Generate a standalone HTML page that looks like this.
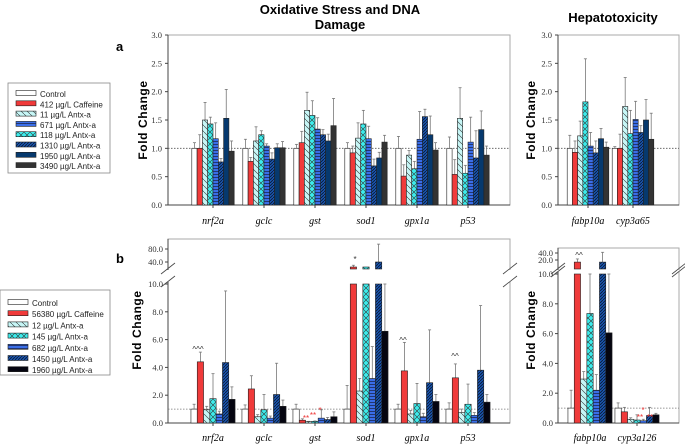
<!DOCTYPE html>
<html><head><meta charset="utf-8"><style>
html,body{margin:0;padding:0;background:#fff;}
svg{display:block;}
</style></head><body>
<svg id="chart" width="685" height="446" viewBox="0 0 685 446" xmlns="http://www.w3.org/2000/svg">
<defs>
<pattern id="pLight" patternUnits="userSpaceOnUse" width="6" height="6"><rect width="6" height="6" fill="#c6f6f6"/><path d="M0,0 L6,6" stroke="#333" stroke-width="0.6"/></pattern>
<pattern id="pCross" patternUnits="userSpaceOnUse" width="6" height="6"><rect width="6" height="6" fill="#3cecec"/><path d="M0,0 L6,6 M6,0 L0,6" stroke="#333" stroke-width="0.6"/></pattern>
<pattern id="pHoriz" patternUnits="userSpaceOnUse" width="4" height="3"><rect width="4" height="3" fill="#3a6ee8"/><path d="M0,0.5 L4,0.5" stroke="#112" stroke-width="0.6"/></pattern>
<pattern id="pNavyH" patternUnits="userSpaceOnUse" width="3" height="3"><rect width="3" height="3" fill="#1a55b0"/><path d="M0,3 L3,0" stroke="#081830" stroke-width="0.8"/></pattern>
</defs>
<text x="340" y="14" text-anchor="middle" font-family="Liberation Sans, sans-serif" font-weight="bold" font-size="13">Oxidative Stress and DNA</text>
<text x="340" y="29" text-anchor="middle" font-family="Liberation Sans, sans-serif" font-weight="bold" font-size="13">Damage</text>
<text x="613" y="22" text-anchor="middle" font-family="Liberation Sans, sans-serif" font-weight="bold" font-size="13">Hepatotoxicity</text>
<text x="116" y="51" font-family="Liberation Sans, sans-serif" font-weight="bold" font-size="13">a</text>
<text x="116" y="263" font-family="Liberation Sans, sans-serif" font-weight="bold" font-size="13">b</text>
<g id="layer"></g>
</svg>
<script>
const NS="http://www.w3.org/2000/svg";
const layer=document.getElementById('layer');
function el(tag,attrs,parent){const e=document.createElementNS(NS,tag);for(const k in attrs)e.setAttribute(k,attrs[k]);(parent||layer).appendChild(e);return e;}

// ---- data ----
const catsA=["nrf2a","gclc","gst","sod1","gpx1a","p53"];
const catsA2=["fabp10a","cyp3a65"];
const seriesA=["Control","412 µg/L Caffeine","11 µg/L Antx-a","118 µg/L Antx-a","671 µg/L Antx-a","1310 µg/L Antx-a","1950 µg/L Antx-a","3490 µg/L Antx-a"];
const valsA=[[1.0,1.0,1.5,1.43,1.17,0.76,1.53,0.95],[1.0,0.77,1.13,1.24,1.04,0.81,1.01,1.01],[1.0,1.1,1.67,1.58,1.34,1.24,1.13,1.4],[1.0,0.92,1.18,1.43,1.17,0.69,0.83,1.11],[1.0,0.51,0.88,0.64,1.16,1.56,1.24,0.97],[1.0,0.54,1.53,0.56,1.11,0.83,1.33,0.88]];
const errA=[[1.1,1.24,1.81,1.55,1.45,0.82,2.04,1.13],[1.16,0.84,1.38,1.31,1.08,0.92,1.08,1.12],[1.07,1.3,1.99,1.84,1.54,1.33,1.25,1.88],[1.1,1.04,1.45,1.67,1.39,0.81,0.93,1.23],[1.21,0.71,0.96,0.77,1.65,1.69,1.57,1.1],[1.2,0.8,2.07,0.7,1.55,1.31,1.66,1.04]];
const valsA2=[[1.0,0.93,1.22,1.82,1.04,0.92,1.17,1.02],[1.0,1.0,1.74,1.26,1.51,1.28,1.5,1.16]];
const errA2=[[1.23,1.13,1.48,2.58,1.28,1.13,1.35,1.11],[1.03,1.25,2.25,1.67,1.83,1.4,1.86,1.62]];
const ticksA=[0,0.5,1.0,1.5,2.0,2.5,3.0];

const catsB2=["fabp10a","cyp3a126"];
const seriesB=["Control","56380 µg/L Caffeine","12 µg/L Antx-a","145 µg/L Antx-a","682 µg/L Antx-a","1450 µg/L Antx-a","1960 µg/L Antx-a"];
const valsB=[[1.0,4.4,0.95,1.75,0.65,4.35,1.7],[1.0,2.45,0.45,0.95,0.35,2.05,1.2],[1.0,0.2,0.1,0.12,0.35,0.25,0.45],[1.0,24,2.3,22,3.2,40,6.6],[1.0,3.75,0.65,1.4,0.45,2.9,1.55],[1.0,3.25,0.75,1.35,0.55,3.8,1.5]];
const errB=[[1.35,5.1,1.2,3.55,0.85,9.5,2.6],[1.3,3.4,0.6,2.05,0.5,4.3,1.65],[1.35,0.3,0.12,0.15,0.95,0.4,0.8],[2.7,30,3.2,22,5.5,95,10.5],[1.35,5.8,0.9,2.85,0.7,6.7,2.05],[1.45,4.25,1.0,2.8,0.75,8.45,2.05]];
const valsB2=[[1.0,14,2.95,7.35,2.2,14,6.05],[1.0,0.75,0.25,0.2,0.15,0.5,0.55]];
const errB2=[[2.2,23,3.45,10.5,3.25,42,10.5],[1.35,1.05,0.35,0.55,0.25,1.05,0.65]];
const ticksBLow=[0,2,4,6,8,10];
const ticksBUp=[40,80];
const ticksB2Up=[20,40];

const fillsA=["#fff","#f03a3a","url(#pLight)","url(#pCross)","url(#pHoriz)","url(#pNavyH)","#06396e","#333"];
const fillsB=["#fff","#f03a3a","url(#pLight)","url(#pCross)","url(#pHoriz)","url(#pNavyH)","#050510"];
const legFillsA=["#fff","#f03a3a","url(#pLight)","url(#pHoriz)","url(#pCross)","url(#pNavyH)","#06396e","#333"];
const legA=["Control","412 µg/L Caffeine","11 µg/L Antx-a","671 µg/L Antx-a","118 µg/L Antx-a","1310 µg/L Antx-a","1950 µg/L Antx-a","3490 µg/L Antx-a"];

function fmt(v,d){return v.toFixed(d);}
function axisText(x,y,t,name){const e=el('text',{x:x,y:y,'text-anchor':'end','font-family':'Liberation Serif, serif','font-size':'8.5',fill:'#333'});e.textContent=t;}
function ylabel(x,y){const e=el('text',{x:0,y:0,transform:`translate(${x},${y}) rotate(-90)`,'text-anchor':'middle','font-family':'Liberation Sans, sans-serif','font-weight':'bold','font-size':'12',fill:'#000','letter-spacing':'0.6'});e.textContent='Fold Change';}
function catLabel(x,y,t){const e=el('text',{x:x,y:y,'text-anchor':'middle','font-family':'Liberation Serif, serif','font-style':'italic','font-size':'10',fill:'#000'});e.textContent=t;}

function drawBar(x,w,yTop,yBase,fill,errY,name){
  if(errY!==null){const l=el('line',{x1:x+w/2,x2:x+w/2,y1:errY,y2:yTop,stroke:'#777','stroke-width':'0.8'});
  const c=el('line',{x1:x+w/2-1.5,x2:x+w/2+1.5,y1:errY,y2:errY,stroke:'#777','stroke-width':'0.8'});}
  const r=el('rect',{x:x,y:yTop,width:w,height:Math.max(0,yBase-yTop),fill:fill,stroke:'#222','stroke-width':'0.6'});
  
}

function panelA(cfg,cats,vals,errs){
  const {x0,x1,yT,yB,max,c0,dc,bw}=cfg;
  const ys=v=>yB-(v/max)*(yB-yT);
  const f=el('rect',{x:x0,y:yT,width:x1-x0,height:yB-yT,fill:'none',stroke:'#aaa','stroke-width':'1'});
  const ax=el('line',{x1:x0,x2:x0,y1:yT,y2:yB,stroke:'#444','stroke-width':'1'});
  const bx=el('line',{x1:x0,x2:x1,y1:yB,y2:yB,stroke:'#444','stroke-width':'1'});
  ticksA.forEach(t=>{const tk=el('line',{x1:x0-3,x2:x0,y1:ys(t),y2:ys(t),stroke:'#444'});axisText(x0-6,ys(t)+3,fmt(t,1),'y-tick-label');});
  const ref=el('line',{x1:x0,x2:x1,y1:ys(1),y2:ys(1),stroke:'#555','stroke-dasharray':'1.5,1.5','stroke-width':'0.8'});
  cats.forEach((c,i)=>{const cx=c0+dc*i;const n=vals[i].length;const sx=cx-n*bw/2;
    vals[i].forEach((v,j)=>{drawBar(sx+j*bw,bw,ys(v),yB,fillsA[j],ys(errs[i][j]),'bar-'+c+'-'+j);});
    const tk=el('line',{x1:cx,x2:cx,y1:yB,y2:yB+3,stroke:'#444'});
    catLabel(cx,yB+19,c);});
}
panelA({x0:168,x1:510,yT:35,yB:205,max:3,c0:213,dc:51,bw:5.3},catsA,valsA,errA);
panelA({x0:558,x1:679,yT:35,yB:205,max:3,c0:588,dc:45,bw:5.2},catsA2,valsA2,errA2);
ylabel(147,120);ylabel(535,120);

function panelB(cfg,cats,vals,errs,upTicks){
  const {x0,x1,yT,yB,y10,c0,dc,bw,uA,uAy,uB,uBy,uBase}=cfg;
  const yl=v=>yB-(v/10)*(yB-y10);
  const uk=(uBy-uAy)/(uB-uA);
  const yu=v=>Math.min(uBase,uAy+(v-uA)*uk);
  const f=el('rect',{x:x0,y:yT,width:x1-x0,height:yB-yT,fill:'none',stroke:'#aaa','stroke-width':'1'});
  const ax=el('line',{x1:x0,x2:x0,y1:yT,y2:yB,stroke:'#444','stroke-width':'1'});
  const bx=el('line',{x1:x0,x2:x1,y1:yB,y2:yB,stroke:'#444','stroke-width':'1'});
  ticksBLow.forEach(t=>{const tk=el('line',{x1:x0-3,x2:x0,y1:yl(t),y2:yl(t),stroke:'#444'});axisText(x0-5,yl(t)+3,fmt(t,1),'y-tick-label');});
  upTicks.forEach(t=>{const y=uAy+(t-uA)*uk;const tk=el('line',{x1:x0-3,x2:x0,y1:y,y2:y,stroke:'#444'});axisText(x0-5,y+3,fmt(t,1),'y-tick-label-upper');});
  const ref=el('line',{x1:x0,x2:x1,y1:yl(1),y2:yl(1),stroke:'#777','stroke-dasharray':'1.5,1.5','stroke-width':'0.8'});
  cats.forEach((c,i)=>{const cx=c0+dc*i;const n=vals[i].length;const sx=cx-n*bw/2;
    vals[i].forEach((v,j)=>{const x=sx+j*bw;const e=errs[i][j];
      if(v>10){drawBar(x,bw,yl(10),yB,fillsB[j],null,'bar-'+c+'-'+j);
        const top=Math.min(yu(v),uBase-2);drawBar(x,bw,top,uBase,fillsB[j],e>v?Math.max(yT,yu(e)):null,'bar-upper-'+c+'-'+j);}
      else{drawBar(x,bw,yl(v),yB,fillsB[j],Math.max(yl(10),yl(e)),'bar-'+c+'-'+j);}
    });
    const tk=el('line',{x1:cx,x2:cx,y1:yB,y2:yB+3,stroke:'#444'});
    catLabel(cx,yB+18,c);});
  [x0,x1].forEach(bxp=>{const g=el('rect',{x:bxp-2,y:uBase+1,width:4,height:y10-uBase-3,fill:'#fff'});
    [uBase-1,y10-3].forEach(yy=>{const m=el('line',{x1:bxp-7,y1:yy+6,x2:bxp+7,y2:yy-5,stroke:'#444','stroke-width':'0.8'});});});
}
panelB({x0:168,x1:510,yT:239,yB:423,y10:284,c0:213,dc:51,bw:6.3,uA:40,uAy:262,uB:80,uBy:249,uBase:269},catsA,valsB,errB,ticksBUp);
panelB({x0:558,x1:679,yT:248,yB:423,y10:274,c0:590,dc:47,bw:6.3,uA:20,uAy:260,uB:40,uBy:253,uBase:269},catsB2,valsB2,errB2,ticksB2Up);
ylabel(141,330);ylabel(535,330);

function ann(x,y,t,col,name){const e=el('text',{x:x,y:y,'text-anchor':'middle','font-family':'Liberation Sans, sans-serif','font-size':'8',fill:col});e.textContent=t;}
ann(198,352,'^^^','#333','annotation-nrf2a');ann(403,343,'^^','#333','annotation-gpx1a');ann(455,359,'^^','#333','annotation-p53');
ann(355,262,'*','#333','annotation-sod1');ann(579,258,'^^','#333','annotation-fabp10a');
ann(306,421,'**','#e33','annotation-gst-1');ann(313,418,'**','#e33','annotation-gst-2');ann(320,413,'*','#e33','annotation-gst-3');
ann(640,420,'**','#e33','annotation-cyp-1');ann(643,413,'*','#e33','annotation-cyp-2');ann(650,420,'**','#e33','annotation-cyp-3');

function legend(x,y,w,h,labels,fills,rowY0,dy,name){
  const b=el('rect',{x:x,y:y,width:w,height:h,fill:'#fff',stroke:'#888','stroke-width':'0.8'});
  labels.forEach((l,i)=>{const yy=rowY0+i*dy;
    const s=el('rect',{x:x+8,y:yy-3.5,width:20,height:5,fill:fills[i],stroke:'#222','stroke-width':'0.6'});
    const t=el('text',{x:x+32,y:yy+3,'font-family':'Liberation Sans, sans-serif','font-size':'8',fill:'#222'});t.textContent=l;});
}
legend(8,83,102,90,legA,legFillsA,94,10.3,'legend-a');
legend(0,290,110,85,seriesB,fillsB,303,11.2,'legend-b');
</script>
</body></html>
